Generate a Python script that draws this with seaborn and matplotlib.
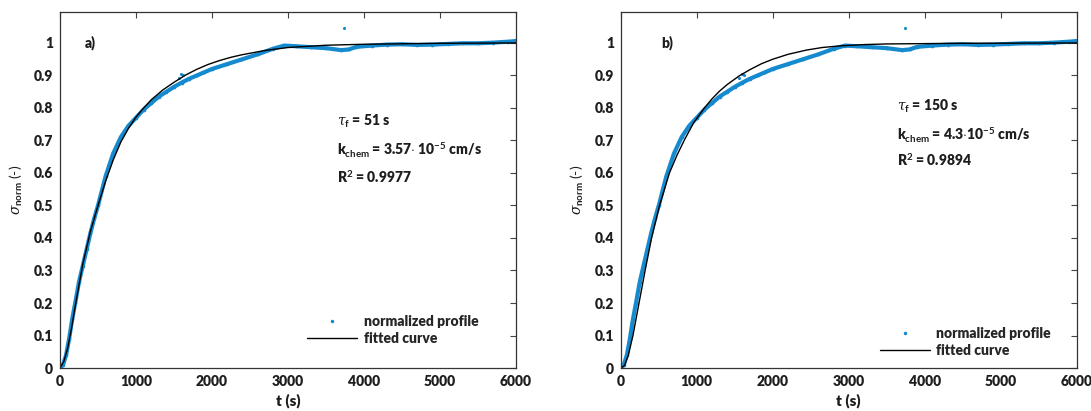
import numpy as np
import pandas as pd
import matplotlib
matplotlib.use("Agg")
import matplotlib.pyplot as plt
from matplotlib.lines import Line2D
import seaborn as sns

# ---- data ----
profile_t = [0, 40, 80, 120, 160, 200, 250, 300, 350, 400, 450, 500, 600, 700, 800, 900,
             1000, 1100, 1200, 1300, 1400, 1500, 1600, 1700, 1800, 1900, 2000, 2200, 2400,
             2600, 2800, 2950, 3100, 3300, 3500, 3700, 3800, 3900, 4100, 4300, 4500, 4700,
             4900, 5100, 5300, 5500, 5700, 5900, 6000]
profile_v = [0, 0.01, 0.04, 0.09, 0.15, 0.2, 0.265, 0.315, 0.365, 0.415, 0.46, 0.5, 0.59,
             0.66, 0.71, 0.745, 0.77, 0.795, 0.815, 0.835, 0.85, 0.865, 0.878, 0.89, 0.9,
             0.91, 0.92, 0.935, 0.95, 0.965, 0.982, 0.992, 0.99, 0.987, 0.984, 0.978, 0.98,
             0.988, 0.992, 0.995, 0.996, 0.994, 0.995, 0.997, 0.999, 0.999, 1.001, 1.004, 1.006]
outlier_t = [1560, 1590, 1620, 3740]
outlier_v = [0.893, 0.905, 0.9, 1.045]

fit_a_t = [0, 50, 100, 150, 200, 300, 400, 500, 600, 700, 800, 900, 1000, 1100, 1200, 1350,
           1500, 1650, 1800, 1950, 2100, 2250, 2400, 2700, 3000, 3500, 4000, 5000, 6000]
fit_a_v = [0, 0.02, 0.06, 0.12, 0.19, 0.32, 0.42, 0.5, 0.575, 0.64, 0.695, 0.737, 0.772,
           0.8, 0.825, 0.855, 0.879, 0.901, 0.919, 0.934, 0.946, 0.956, 0.964, 0.977,
           0.986, 0.993, 0.996, 0.999, 1.0]

fit_b_t = [0, 50, 100, 160, 240, 320, 405, 510, 640, 740, 840, 960, 1100, 1200, 1300, 1400,
           1560, 1700, 1850, 2000, 2200, 2440, 2650, 2880, 3200, 3500, 4500, 6000]
fit_b_v = [0, 0.008, 0.04, 0.1, 0.2, 0.3, 0.4, 0.5, 0.6, 0.655, 0.703, 0.755, 0.8, 0.828,
           0.852, 0.872, 0.899, 0.918, 0.936, 0.95, 0.965, 0.978, 0.986, 0.991, 0.995,
           0.997, 0.999, 1.0]

panel_labels = ["a)", "b)"]
fit_texts = [
    [r"$\tau_{\mathbf{f}}$ = 51 s",
     r"k$_{\mathbf{chem}}$ = 3.57$\cdot$ 10$^{\mathbf{-5}}$ cm/s",
     r"R$^{\mathbf{2}}$ = 0.9977"],
    [r"$\tau_{\mathbf{f}}$ = 150 s",
     r"k$_{\mathbf{chem}}$ = 4.3$\cdot$10$^{\mathbf{-5}}$ cm/s",
     r"R$^{\mathbf{2}}$ = 0.9894"],
]
x_ticks = [0, 1000, 2000, 3000, 4000, 5000, 6000]
y_ticks = [0, 0.1, 0.2, 0.3, 0.4, 0.5, 0.6, 0.7, 0.8, 0.9, 1]
y_ticklabels = ["0", "0.1", "0.2", "0.3", "0.4", "0.5", "0.6", "0.7", "0.8", "0.9", "1"]

# ---- style ----
sns.set_theme(style="white")
plt.rcParams["font.family"] = ["Lato", "DejaVu Sans"]
plt.rcParams["font.weight"] = "bold"
plt.rcParams["mathtext.fontset"] = "custom"
plt.rcParams["mathtext.rm"] = "Lato:bold"
plt.rcParams["mathtext.bf"] = "Lato:bold"
plt.rcParams["mathtext.it"] = "DejaVu Serif:style=italic:weight=normal"

BLUE = "#168ace"
TXT = "#1e1e1e"

fig = plt.figure(figsize=(10.91, 4.11), dpi=100)
ax_a = fig.add_axes([0.055, 0.1046, 0.418, 0.866])
ax_b = fig.add_axes([0.569, 0.1046, 0.418, 0.866])

prof = pd.DataFrame({"t": profile_t, "v": profile_v})
outl = pd.DataFrame({"t": outlier_t, "v": outlier_v})
fits = [pd.DataFrame({"t": fit_a_t, "v": fit_a_v}), pd.DataFrame({"t": fit_b_t, "v": fit_b_v})]

text_pos = [(3640, [0.758, 0.671, 0.59]), (3628, [0.804, 0.717, 0.64])]
label_pos = [330, 535]
legend_anchor = [(0.515, 0.185), (0.54, 0.15)]

for i, ax in enumerate([ax_a, ax_b]):
    sns.lineplot(data=prof, x="t", y="v", ax=ax, color=BLUE, linewidth=3.0)
    sns.scatterplot(data=prof, x="t", y="v", ax=ax, color=BLUE, s=7, linewidth=0)
    sns.scatterplot(data=outl, x="t", y="v", ax=ax, color=BLUE, s=5, linewidth=0)
    sns.lineplot(data=fits[i], x="t", y="v", ax=ax, color="black", linewidth=1.0)

    ax.set_xlim(0, 6000)
    ax.set_ylim(0, 1.095)
    ax.set_xticks(x_ticks)
    ax.set_xticklabels([str(t) for t in x_ticks])
    ax.set_yticks(y_ticks)
    ax.set_yticklabels(y_ticklabels)
    ax.tick_params(direction="in", length=4, width=0.8, top=True, right=True,
                   labelsize=10, colors="#444444", labelcolor=TXT, pad=5)
    for lab in ax.get_xticklabels() + ax.get_yticklabels():
        lab.set_fontweight("heavy")
    for sp in ax.spines.values():
        sp.set_visible(True)
        sp.set_color("#333333")
        sp.set_linewidth(0.9)

    ax.set_xlabel("t (s)", fontsize=11, fontweight="heavy", color=TXT, labelpad=4)
    ax.set_ylabel(r"$\sigma_{\mathbf{norm}}$ (-)", fontsize=10, color=TXT, labelpad=6)

    ax.text(label_pos[i], 1.0, panel_labels[i], fontsize=10, fontweight="heavy",
            color=TXT, va="center", ha="left")
    tx, tys = text_pos[i]
    for txt, ty in zip(fit_texts[i], tys):
        ax.text(tx, ty, txt, fontsize=10, fontweight="heavy", color=TXT,
                va="center", ha="left")

    handles = [Line2D([], [], color=BLUE, marker=".", markersize=3, linestyle="none"),
               Line2D([], [], color="black", linewidth=1.0)]
    ax.legend(handles, ["normalized profile", "fitted curve"], loc="upper left",
              bbox_to_anchor=legend_anchor[i], frameon=False,
              handlelength=3.6, handletextpad=0.5, labelspacing=0.3,
              prop={"weight": "heavy", "size": 10})

fig.savefig("out.png", dpi=100)
